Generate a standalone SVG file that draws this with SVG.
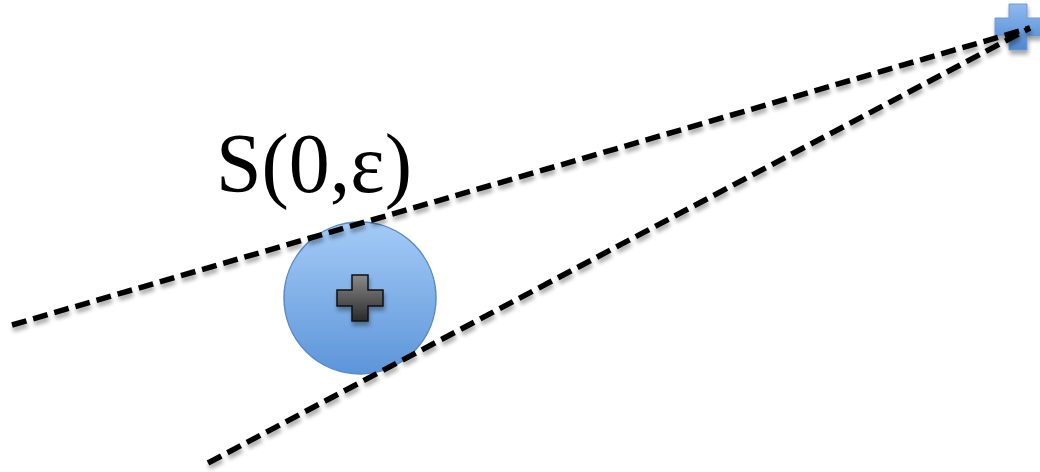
<svg xmlns="http://www.w3.org/2000/svg" width="1040" height="472" viewBox="0 0 1040 472">
<style>
.dash{stroke:#000;stroke-width:5.5;stroke-dasharray:15 7;fill:none}
.lbl{font-family:"Liberation Serif",serif;font-size:84px;fill:#000}
</style>
<defs>
<linearGradient id="gBall" x1="0" y1="0" x2="0" y2="1">
<stop offset="0" stop-color="#a4cbf7"/>
<stop offset="1" stop-color="#5d95d9"/>
</linearGradient>
<linearGradient id="gDark" x1="0" y1="0" x2="0" y2="1">
<stop offset="0" stop-color="#8a8a8a"/>
<stop offset="1" stop-color="#2a2a2a"/>
</linearGradient>
<linearGradient id="gBlue" x1="0" y1="0" x2="0" y2="1">
<stop offset="0" stop-color="#8fbaf0"/>
<stop offset="1" stop-color="#4f88d0"/>
</linearGradient>
<filter id="sh" x="-10%" y="-10%" width="130%" height="140%">
<feGaussianBlur in="SourceAlpha" stdDeviation="2"/>
<feOffset dx="1" dy="4"/>
<feComponentTransfer><feFuncA type="linear" slope="0.35"/></feComponentTransfer>
<feMerge><feMergeNode/><feMergeNode in="SourceGraphic"/></feMerge>
</filter>
</defs>
<g id="ball">
<circle cx="360" cy="298" r="76" fill="url(#gBall)" stroke="#5a8ac6" stroke-width="1.5"/>
<path d="M352,275 h16 v15 h15 v16 h-15 v15 h-16 v-15 h-15 v-16 h15 z" fill="url(#gDark)" stroke="#111" stroke-width="1.5" filter="url(#sh)"/>
</g>
<g id="point">
<path d="M1009,4 h18 v14 h14 v18 h-14 v14 h-18 v-14 h-14 v-18 h14 z" fill="url(#gBlue)" stroke="#6e9ad4" stroke-width="1" filter="url(#sh)"/>
</g>
<g id="connectors" filter="url(#sh)">
<line class="dash" x1="12" y1="325" x2="1030" y2="28"/>
<line class="dash" x1="208" y1="463" x2="1030" y2="28"/>
</g>
<g id="label">
<text class="lbl" x="216" y="192" textLength="196" lengthAdjust="spacingAndGlyphs">S(0,ε)</text>
</g>
</svg>
